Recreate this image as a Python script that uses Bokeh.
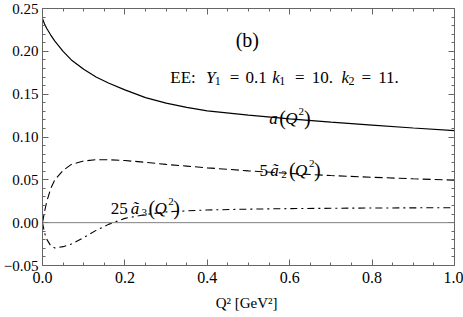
from bokeh.plotting import figure
from bokeh.models import FixedTicker, LinearAxis, Label, Span, Range1d
from bokeh.embed import file_html
from bokeh.resources import INLINE

# ---- data ----
q2 = [0.0, 0.005, 0.01, 0.02, 0.03, 0.05, 0.07, 0.10, 0.13, 0.16, 0.20, 0.25,
      0.30, 0.35, 0.40, 0.50, 0.60, 0.70, 0.80, 0.90, 1.00]
a_q2 = [0.238, 0.232, 0.227, 0.219, 0.212, 0.200, 0.190, 0.179, 0.170, 0.163,
        0.155, 0.146, 0.1395, 0.1345, 0.1305, 0.1255, 0.1212, 0.1173, 0.1138,
        0.1105, 0.1075]
a2_x5 = [0.0, 0.013, 0.024, 0.040, 0.050, 0.061, 0.068, 0.072, 0.0735, 0.0735,
         0.0725, 0.0705, 0.068, 0.066, 0.064, 0.0605, 0.0575, 0.055, 0.053,
         0.0512, 0.0497]
a3_x25 = [0.0, -0.012, -0.019, -0.027, -0.0295, -0.028, -0.025, -0.0175, -0.009,
          -0.002, 0.005, 0.0095, 0.0125, 0.0138, 0.0148, 0.0158, 0.0164, 0.0168,
          0.0171, 0.0173, 0.0175]

x_ticks = [0.0, 0.2, 0.4, 0.6, 0.8, 1.0]
x_tick_labels = ["0.0", "0.2", "0.4", "0.6", "0.8", "1.0"]
x_minor = [i * 0.05 for i in range(21)]
y_ticks = [-0.05, 0.0, 0.05, 0.10, 0.15, 0.20, 0.25]
y_tick_labels = ["\u22120.05", "0.00", "0.05", "0.10", "0.15", "0.20", "0.25"]
y_minor = [round(-0.05 + i * 0.01, 2) for i in range(31)]

x_title = "Q\u00b2  [GeV\u00b2]"

# annotation pieces: (text, x, y, style, size)
notes = [
    ("(b)", 0.4688, 0.2138, "normal", "20px"),
    ("EE:", 0.3101, 0.1698, "normal", "17px"),
    ("Y", 0.3966, 0.1698, "italic", "17px"),
    ("1", 0.4183, 0.1654, "normal", "12px"),
    ("=", 0.4543, 0.1698, "normal", "17px"),
    ("0.1", 0.4928, 0.1698, "normal", "17px"),
    ("k", 0.5577, 0.1698, "italic", "17px"),
    ("1", 0.5745, 0.1654, "normal", "12px"),
    ("=", 0.6130, 0.1698, "normal", "17px"),
    ("10.", 0.6538, 0.1698, "normal", "17px"),
    ("k", 0.7260, 0.1698, "italic", "17px"),
    ("2", 0.7428, 0.1654, "normal", "12px"),
    ("=", 0.7740, 0.1698, "normal", "17px"),
    ("11.", 0.8149, 0.1698, "normal", "17px"),
    # a(Q^2)
    ("a", 0.5505, 0.1216, "italic", "17px"),
    ("(", 0.5745, 0.1216, "normal", "20px"),
    ("Q", 0.5889, 0.1216, "italic", "17px"),
    ("2", 0.6214, 0.1298, "normal", "11px"),
    (")", 0.6346, 0.1216, "normal", "20px"),
    # 5 a2(Q^2)
    ("5", 0.5264, 0.0609, "normal", "17px"),
    ("\u00e3", 0.5529, 0.0609, "italic", "17px"),
    ("2", 0.5793, 0.0568, "normal", "11px"),
    ("(", 0.5986, 0.0609, "normal", "20px"),
    ("Q", 0.6130, 0.0609, "italic", "17px"),
    ("2", 0.6466, 0.0691, "normal", "11px"),
    (")", 0.6587, 0.0609, "normal", "20px"),
    # 25 a3(Q^2)
    ("25", 0.1659, 0.01654, "normal", "17px"),
    ("\u00e3", 0.2139, 0.01654, "italic", "17px"),
    ("3", 0.2404, 0.01245, "normal", "11px"),
    ("(", 0.2572, 0.01654, "normal", "20px"),
    ("Q", 0.2716, 0.01654, "italic", "17px"),
    ("2", 0.3053, 0.0247, "normal", "11px"),
    (")", 0.3173, 0.01654, "normal", "20px"),
]

FONT = "Liberation Serif"
FRAME = "#666666"

p = figure(width=463, height=317, output_backend="svg", toolbar_location=None,
           x_range=Range1d(0, 1), y_range=Range1d(-0.05, 0.25),
           x_axis_location=None, y_axis_location=None,
           min_border_left=38, min_border_right=9, min_border_top=8,
           min_border_bottom=52)
p.margin = (0, 0, 0, 0)
p.xgrid.visible = False
p.ygrid.visible = False
p.outline_line_color = FRAME
p.outline_line_width = 1
p.background_fill_color = "white"
p.border_fill_color = "white"


def make_axis(ticks, minor, labels, show):
    ax = LinearAxis(ticker=FixedTicker(ticks=ticks, minor_ticks=minor))
    ax.axis_line_color = FRAME
    ax.major_tick_line_color = FRAME
    ax.minor_tick_line_color = FRAME
    ax.major_tick_in = 6
    ax.major_tick_out = 0
    ax.minor_tick_in = 3
    ax.minor_tick_out = 0
    if show:
        ax.major_label_overrides = {t: l for t, l in zip(ticks, labels)}
        ax.major_label_text_font = FONT
        ax.major_label_text_color = "black"
    else:
        ax.major_label_text_color = None
        ax.major_label_standoff = 0
    return ax


xb = make_axis(x_ticks, x_minor, x_tick_labels, True)
xb.major_label_text_font_size = "16px"
xb.major_label_standoff = 6
xb.axis_label = x_title
xb.axis_label_text_font = FONT
xb.axis_label_text_font_style = "normal"
xb.axis_label_text_font_size = "15px"
xb.axis_label_text_color = "black"
xb.axis_label_standoff = 9
xt = make_axis(x_ticks, x_minor, x_tick_labels, False)
yl = make_axis(y_ticks, y_minor, y_tick_labels, True)
yl.major_label_text_font_size = "15px"
yl.major_label_standoff = 4
yr = make_axis(y_ticks, y_minor, y_tick_labels, False)

p.add_layout(xb, "below")
p.add_layout(xt, "above")
p.add_layout(yl, "left")
p.add_layout(yr, "right")

p.add_layout(Span(location=0, dimension="width", line_color="#808080", line_width=1))

p.line(q2, a_q2, line_color="black", line_width=1.2)
p.line(q2, a2_x5, line_color="black", line_width=1.1, line_dash="8 4")
p.line(q2, a3_x25, line_color="black", line_width=1.1, line_dash="7 4 2 4")

for txt, x, y, style, size in notes:
    p.add_layout(Label(x=x, y=y, text=txt, text_font=FONT, text_font_style=style,
                       text_font_size=size, text_align="left",
                       text_baseline="alphabetic", text_color="black"))

open("out.html", "w").write(file_html(p, INLINE))
